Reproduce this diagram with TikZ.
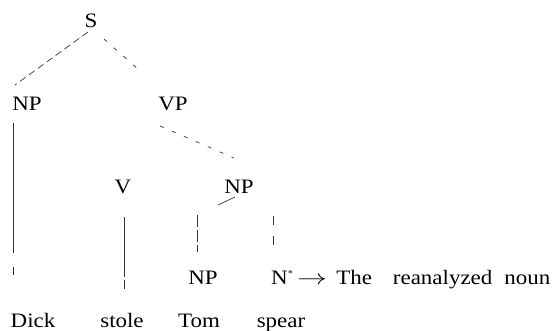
\documentclass[tikz,border=0pt]{standalone}
\usepackage{fontspec}
\setmainfont{Liberation Serif}[FakeStretch=1.12]
\begin{document}
\begin{tikzpicture}[x=1pt,y=-1pt,
  lab/.style={anchor=base,inner sep=0pt,font=\fontsize{20.5}{24}\selectfont},
  edge/.style={draw=black!80,line width=0.7pt},
  faded/.style={edge,dash pattern=on 7pt off 4pt},
  sparse/.style={edge,dash pattern=on 4pt off 9pt}]
\useasboundingbox (0,0) rectangle (554,330);
% labels
\node[lab] (S)   at (91,27)  {S};
\node[lab] (NPa) at (27,110) {NP};
\node[lab] (VP)  at (173,110) {VP};
\node[lab] (V)   at (123,193) {V};
\node[lab] (NPb) at (239,193) {NP};
\node[lab] (NPc) at (203,284) {NP};
\node[lab,anchor=base west] (Ns) at (271,284) {N\raisebox{8pt}{\fontsize{9}{9}\selectfont *}};
\node[lab,anchor=base west] (note) at (297,284) {\scalebox{1.45}[1]{$\rightarrow$}\hspace{9pt}The\hspace{21pt}reanalyzed\hspace{12pt}noun};
% words
\node[lab] (w1) at (33,327)  {Dick};
\node[lab] (w2) at (122,327) {stole};
\node[lab] (w3) at (199,327) {Tom};
\node[lab] (w4) at (281,327) {spear};
% connector end points
\coordinate (s1) at (88,32);  \coordinate (n1) at (15,85);
\coordinate (s2) at (104,39); \coordinate (v1) at (139,70);
\coordinate (v2) at (160,126); \coordinate (n2) at (234,158);
\coordinate (b1) at (235,197); \coordinate (b2) at (218,205);
\coordinate (c1) at (197,215); \coordinate (c2) at (197,252);
\coordinate (d1) at (273,216); \coordinate (d2) at (273,251);
\coordinate (a1) at (13,123);  \coordinate (a2) at (13,282);
\coordinate (e1) at (124,217); \coordinate (e2) at (124,289);
% connectors
\draw[faded] (s1) -- (n1);
\draw[sparse] (s2) -- (v1);
\draw[sparse] (v2) -- (n2);
\draw[edge] (b1) -- (b2);
\draw[edge,dash pattern=on 12pt off 3pt] (c1) -- (c2);
\draw[edge,dash pattern=on 9pt off 11pt] (d1) -- (d2);
\draw[edge,dash pattern=on 130pt off 14pt on 8pt] (a1) -- (a2);
\draw[edge,dash pattern=on 60pt off 3pt] (e1) -- (e2);
\end{tikzpicture}
\end{document}
